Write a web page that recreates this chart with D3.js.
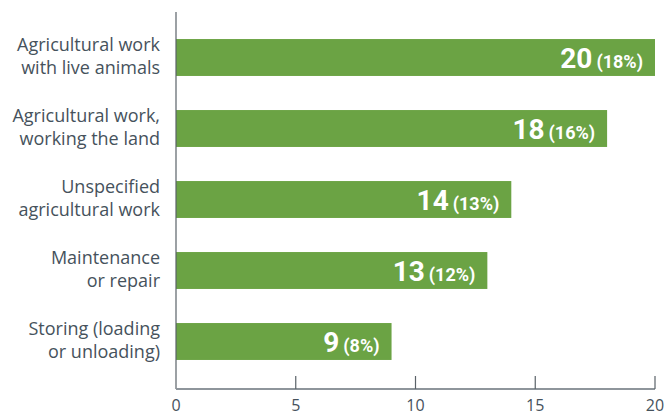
<!DOCTYPE html>
<html lang="en">
<head>
    <meta charset="UTF-8">
    <title>Agricultural work bar chart</title>
    <script src="https://d3js.org/d3.v7.min.js"></script>
    <style>
        body {
            margin: 0;
            padding: 0;
            background: #fff;
        }
        .cat-label {
            font-family: "Open Sans", sans-serif;
            font-size: 18px;
            fill: #46525c;
        }
        .tick-label {
            font-family: "Open Sans", sans-serif;
            font-size: 16px;
            fill: #46525c;
        }
        .val-num {
            font-family: Roboto, sans-serif;
            font-weight: 700;
            font-size: 28px;
            fill: #fff;
        }
        .val-pct {
            font-family: "Liberation Sans Narrow", "Roboto", sans-serif;
            font-weight: 700;
            font-size: 18px;
            fill: #fff;
        }
    </style>
</head>
<body>
    <svg id="chart" width="665" height="416"></svg>
    <script>
        const width = 665, height = 416;

        const categories = [
            ["Agricultural work", "with live animals"],
            ["Agricultural work,", "working the land"],
            ["Unspecified", "agricultural work"],
            ["Maintenance", "or repair"],
            ["Storing (loading", "or unloading)"]
        ];
        const values = [20, 18, 14, 13, 9];
        const percents = ["18%", "16%", "13%", "12%", "8%"];
        const xTicks = [0, 5, 10, 15, 20];

        const svg = d3.select("#chart");

        const x = d3.scaleLinear().domain([0, 20]).range([176, 655]);
        const y = d3.scaleBand()
            .domain(d3.range(categories.length))
            .range([22, 377])
            .paddingInner(0.48)
            .paddingOuter(0.24);

        const axisY = 389;

        // bars
        svg.selectAll("rect.bar")
            .data(values)
            .enter().append("rect")
            .attr("class", "bar")
            .attr("x", x(0))
            .attr("y", (d, i) => y(i))
            .attr("width", d => x(d) - x(0))
            .attr("height", y.bandwidth())
            .attr("fill", "#6ba344");

        // value labels
        const lab = svg.selectAll("text.val")
            .data(values)
            .enter().append("text")
            .attr("class", "val")
            .attr("x", d => x(d) - 12)
            .attr("y", (d, i) => y(i) + y.bandwidth() / 2 + 10)
            .attr("text-anchor", "end");
        lab.append("tspan").attr("class", "val-num").text(d => d);
        lab.append("tspan").attr("class", "val-pct").attr("dx", 4)
            .text((d, i) => "(" + percents[i] + ")");

        // category labels
        const cat = svg.selectAll("text.cat")
            .data(categories)
            .enter().append("text")
            .attr("class", "cat-label")
            .attr("text-anchor", "end")
            .attr("y", (d, i) => y(i) + y.bandwidth() / 2 - 7);
        cat.selectAll("tspan")
            .data(d => d)
            .enter().append("tspan")
            .attr("x", 160)
            .attr("dy", (d, j) => j === 0 ? 0 : 23)
            .text(d => d);

        // left axis line
        svg.append("line")
            .attr("x1", x(0)).attr("x2", x(0))
            .attr("y1", 12).attr("y2", axisY)
            .attr("stroke", "#5a6268").attr("stroke-width", 1.2);

        // bottom axis
        svg.append("line")
            .attr("x1", x(0)).attr("x2", x(20))
            .attr("y1", axisY).attr("y2", axisY)
            .attr("stroke", "#8e959b").attr("stroke-width", 2);

        svg.selectAll("line.tick")
            .data(xTicks.slice(1))
            .enter().append("line")
            .attr("class", "tick")
            .attr("x1", d => x(d)).attr("x2", d => x(d))
            .attr("y1", axisY - 13).attr("y2", axisY)
            .attr("stroke", "#5a6268").attr("stroke-width", 1.2);

        svg.selectAll("text.tick-label")
            .data(xTicks)
            .enter().append("text")
            .attr("class", "tick-label")
            .attr("x", d => x(d))
            .attr("y", 411)
            .attr("text-anchor", "middle")
            .text(d => d);
    </script>
</body>
</html>
